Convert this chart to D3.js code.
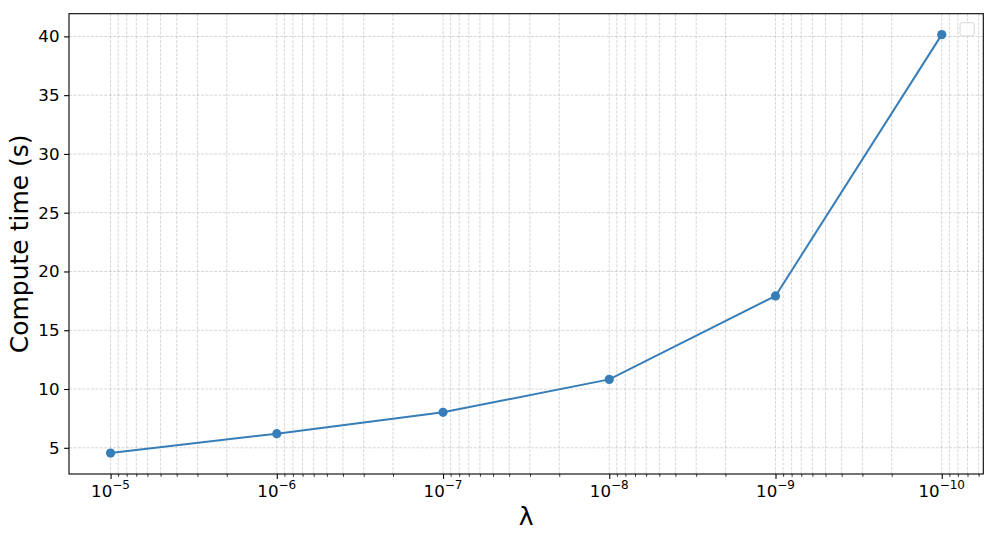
<!DOCTYPE html>
<html>
<head>
<meta charset="utf-8">
<script src="https://cdn.jsdelivr.net/npm/d3@7"></script>
<style>
  html, body { margin: 0; padding: 0; background: #fff; }
  svg { display: block; font-family: "DejaVu Sans", sans-serif; }
</style>
</head>
<body>
<svg id="chart" width="997" height="544"></svg>
<script>
// ---- data ----
const lambdas = [1e-5, 1e-6, 1e-7, 1e-8, 1e-9, 1e-10];
const computeTimes = [4.55, 6.2, 8.02, 10.82, 17.92, 40.15];
const xTickExponents = [-5, -6, -7, -8, -9, -10];
const yTicks = [5, 10, 15, 20, 25, 30, 35, 40];
const xLabel = "λ";
const yLabel = "Compute time (s)";

// ---- layout ----
const W = 997, H = 544;
const m = { left: 69, right: 997 - 983.3, top: 13.7, bottom: 544 - 474 };
const svg = d3.select("#chart");
const iw = W - m.left - m.right, ih = H - m.top - m.bottom;
const g = svg.append("g").attr("transform", `translate(${m.left},${m.top})`);

const lmin = d3.min(lambdas), lmax = d3.max(lambdas);
const lspan = Math.log10(lmax) - Math.log10(lmin);
const x = d3.scaleLog()
  .domain([Math.pow(10, Math.log10(lmax) + 0.05 * lspan), Math.pow(10, Math.log10(lmin) - 0.05 * lspan)])
  .range([0, iw]);
const ymin = d3.min(computeTimes), ymax = d3.max(computeTimes);
const yspan = ymax - ymin;
const y = d3.scaleLinear()
  .domain([ymin - 0.05 * yspan, ymax + 0.05 * yspan])
  .range([ih, 0]);

// minor ticks in x
const minorTicks = [];
for (let e = -4; e >= -11; e--) {
  for (let k = 2; k <= 9; k++) {
    const v = k * Math.pow(10, e - 1);
    const px = x(v);
    if (px >= 0 && px <= iw) minorTicks.push(v);
  }
}
const majorTicks = xTickExponents.map(e => Math.pow(10, e));

// grid
const gridStyle = sel => sel.attr("stroke", "#b0b0b0").attr("stroke-opacity", 0.65)
  .attr("stroke-width", 0.8).attr("stroke-dasharray", "3,1.4").attr("fill", "none");
g.append("g").selectAll("line").data(minorTicks).join("line")
  .attr("x1", d => x(d)).attr("x2", d => x(d)).attr("y1", 0).attr("y2", ih).call(gridStyle);
g.append("g").selectAll("line").data(majorTicks).join("line")
  .attr("x1", d => x(d)).attr("x2", d => x(d)).attr("y1", 0).attr("y2", ih).call(gridStyle);
g.append("g").selectAll("line").data(yTicks).join("line")
  .attr("x1", 0).attr("x2", iw).attr("y1", d => y(d)).attr("y2", d => y(d)).call(gridStyle);

// axes
const xAxisMajor = d3.axisBottom(x).tickValues(majorTicks).tickSize(4.9).tickFormat("");
const xAxisMinor = d3.axisBottom(x).tickValues(minorTicks).tickSize(2.8).tickFormat("");
const yAxis = d3.axisLeft(y).tickValues(yTicks).tickSize(4.9).tickFormat("");
const axStyle = sel => {
  sel.select(".domain").remove();
  sel.selectAll(".tick line").attr("stroke", "#000").attr("stroke-width", 1.1);
};
g.append("g").attr("transform", `translate(0,${ih})`).call(xAxisMajor).call(axStyle);
g.append("g").attr("transform", `translate(0,${ih})`).call(xAxisMinor).call(s => {
  s.select(".domain").remove();
  s.selectAll(".tick line").attr("stroke", "#000").attr("stroke-width", 0.8);
});
g.append("g").call(yAxis).call(axStyle);

// x tick labels (10^e)
const xl = g.append("g").attr("font-size", 16.67).attr("fill", "#000");
xTickExponents.forEach(e => {
  const t = xl.append("text")
    .attr("x", x(Math.pow(10, e)))
    .attr("y", ih + 23)
    .attr("text-anchor", "middle");
  t.append("tspan").text("10");
  t.append("tspan").attr("font-size", 12).attr("dy", -7.5).text("−" + Math.abs(e));
});

// y tick labels
g.append("g").selectAll("text").data(yTicks).join("text")
  .attr("x", -9.5).attr("y", d => y(d)).attr("dy", "0.36em")
  .attr("text-anchor", "end").attr("font-size", 16.67).attr("fill", "#000")
  .text(d => d);

// spines
g.append("rect").attr("x", 0).attr("y", 0).attr("width", iw).attr("height", ih)
  .attr("fill", "none").attr("stroke", "#000").attr("stroke-width", 1.1);

// line + markers
const color = "#377eb8";
const pts = lambdas.map((l, i) => [l, computeTimes[i]]);
g.append("path").datum(pts)
  .attr("fill", "none").attr("stroke", color).attr("stroke-width", 2)
  .attr("d", d3.line().x(d => x(d[0])).y(d => y(d[1])));
g.append("g").selectAll("circle").data(pts).join("circle")
  .attr("cx", d => x(d[0])).attr("cy", d => y(d[1])).attr("r", 4.6).attr("fill", color);

// empty legend box
g.append("rect").attr("x", iw - 23.3).attr("y", 9).attr("width", 14.3).attr("height", 13.3)
  .attr("rx", 2.5).attr("fill", "#fff").attr("fill-opacity", 0.8)
  .attr("stroke", "#d6d6d6").attr("stroke-width", 1);

// axis labels
svg.append("text").attr("x", m.left + iw / 2).attr("y", 525)
  .attr("text-anchor", "middle").attr("font-size", 25).attr("fill", "#000").text(xLabel);
svg.append("text")
  .attr("transform", `translate(28,${m.top + ih / 2}) rotate(-90)`)
  .attr("text-anchor", "middle").attr("font-size", 25).attr("fill", "#000").text(yLabel);
</script>
</body>
</html>
